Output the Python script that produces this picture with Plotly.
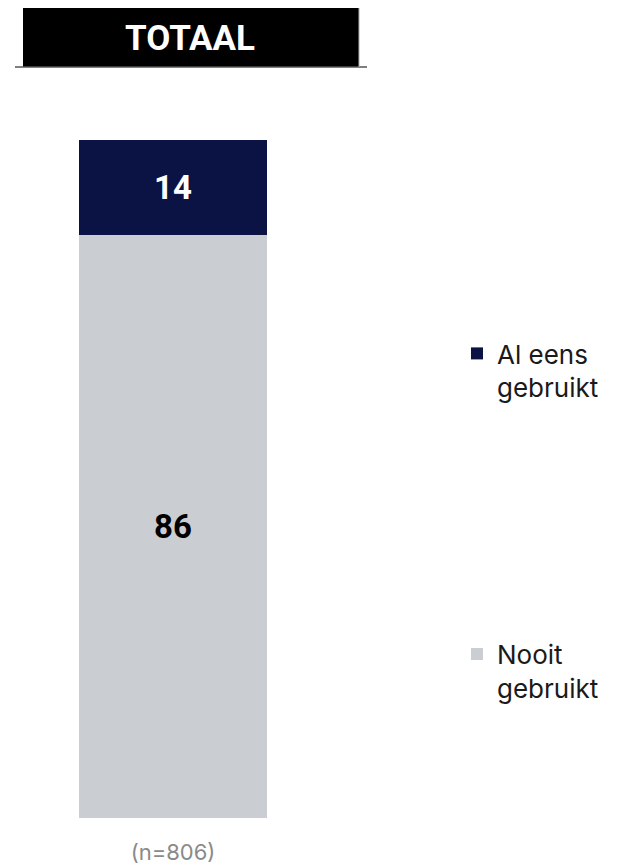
import plotly.graph_objects as go

categories = ["(n=806)"]
series_names = ["Nooit<br>gebruikt", "Al eens<br>gebruikt"]
series_values = [[86], [14]]
series_colors = ["#cacdd2", "#0b1244"]
label_colors = ["#000000", "#ffffff"]
legend_ranks = [2, 1]
title_text = "TOTAAL"

# figure is drawn 8px in from the page corner (body margin)
OFF = 8
W, H = 622 - OFF, 867 - OFF
T, B = 140 - OFF, 867 - 818   # plot top / bottom margins
PH = H - T - B


def px(page_x):
    return (page_x - OFF) / W


def py(page_y):
    return 1 + (T - (page_y - OFF)) / PH


fig = go.Figure()
for i, (name, vals) in enumerate(zip(series_names, series_values)):
    fig.add_trace(go.Bar(
        x=categories, y=vals, name=name,
        marker=dict(color=series_colors[i], line=dict(width=0)),
        text=[str(v) for v in vals], textposition="inside",
        insidetextanchor="middle",
        textfont=dict(family="Roboto", size=33, color=label_colors[i], weight="bold"),
        legendgroup=f"g{i}", legendrank=legend_ranks[i],
        hoverinfo="skip",
    ))

fig.update_layout(
    width=W, height=H,
    margin=dict(l=0, r=0, t=T, b=B),
    barmode="stack", bargap=0,
    plot_bgcolor="white", paper_bgcolor="white",
    xaxis=dict(domain=[px(79), px(267)], showgrid=False, showline=False, zeroline=False,
               ticks="", tickfont=dict(family="Inter", size=22, color="#8a8a8a"),
               ticklabelstandoff=19),
    yaxis=dict(range=[0, 100], visible=False),
    legend=dict(
        x=px(457), xanchor="left", y=py(330), yanchor="top",
        font=dict(family="Inter", size=26, color="#1a1a1a"),
        traceorder="grouped", tracegroupgap=230,
        valign="top", itemwidth=30,
    ),
    showlegend=True,
    shapes=[
        dict(type="rect", xref="paper", yref="paper",
             x0=px(23), x1=px(359), y0=py(67), y1=py(8),
             fillcolor="black", line=dict(width=0), layer="above"),
        dict(type="line", xref="paper", yref="paper",
             x0=px(15), x1=px(367), y0=py(67), y1=py(67),
             line=dict(color="#555555", width=1.5)),
        dict(type="line", xref="paper", yref="paper",
             x0=px(359), x1=px(359), y0=py(67), y1=py(8),
             line=dict(color="#b0b0b0", width=1)),
    ],
    annotations=[
        dict(text=title_text, xref="paper", yref="paper",
             x=px(190), y=py(39), xanchor="center", yanchor="middle",
             showarrow=False,
             font=dict(family="Roboto", size=35, color="white", weight="bold")),
    ],
)

fig.write_html("out.html")
